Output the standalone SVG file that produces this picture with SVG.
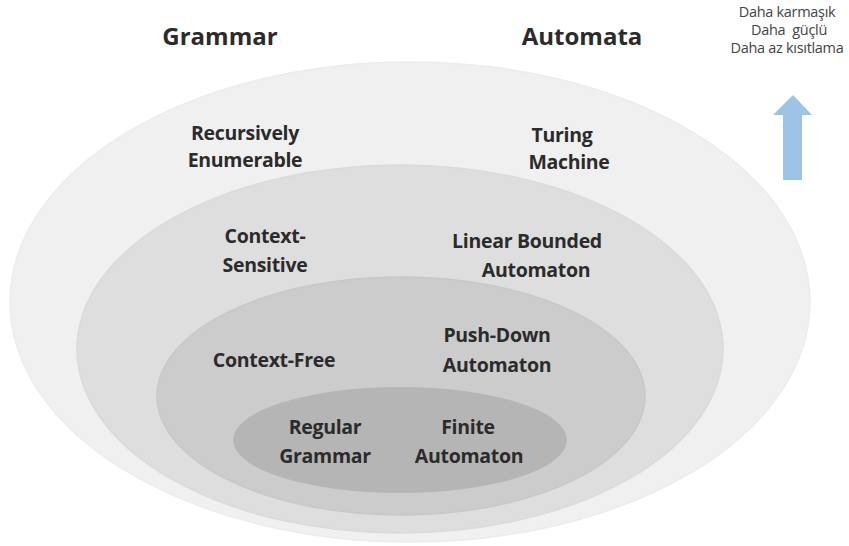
<svg xmlns="http://www.w3.org/2000/svg" width="849" height="546" viewBox="0 0 849 546">
<style>
.t{font-family:"Open Sans","Liberation Sans",sans-serif;font-weight:bold;fill:#2b2b2b;text-anchor:middle;font-size:19.5px;letter-spacing:-0.3px}
.h{font-family:"Open Sans","Liberation Sans",sans-serif;font-weight:bold;fill:#2b2b2b;text-anchor:middle;font-size:24px}
.n{font-family:"Open Sans","Liberation Sans",sans-serif;fill:#444;text-anchor:middle;font-size:14.5px;letter-spacing:-0.3px;white-space:pre}
</style>
<rect width="849" height="546" fill="#ffffff"/>
<g id="recursively-enumerable">
<ellipse cx="410" cy="302" rx="400" ry="240" fill="#f0f0f0" stroke="#ececec" stroke-width="1.5"/>
<text class="t" x="245" y="140">Recursively</text>
<text class="t" x="245" y="167">Enumerable</text>
<text class="t" x="562" y="142">Turing</text>
<text class="t" x="569" y="169">Machine</text>
</g>
<g id="context-sensitive">
<ellipse cx="400" cy="349" rx="323" ry="184" fill="#dedede" stroke="#dadada" stroke-width="1.5"/>
<text class="t" x="265" y="243">Context-</text>
<text class="t" x="265" y="272">Sensitive</text>
<text class="t" x="527" y="248">Linear Bounded</text>
<text class="t" x="536" y="277">Automaton</text>
</g>
<g id="context-free">
<ellipse cx="401" cy="396" rx="244" ry="119" fill="#cccccc" stroke="#c8c8c8" stroke-width="1.5"/>
<text class="t" x="274" y="367">Context-Free</text>
<text class="t" x="497" y="342">Push-Down</text>
<text class="t" x="497" y="372">Automaton</text>
</g>
<g id="regular">
<ellipse cx="400" cy="440" rx="167" ry="53" fill="#b5b5b5"/>
<text class="t" x="325" y="434">Regular</text>
<text class="t" x="325" y="463">Grammar</text>
<text class="t" x="468" y="434">Finite</text>
<text class="t" x="469" y="463">Automaton</text>
</g>
<g id="headers">
<text class="h" x="220" y="45">Grammar</text>
<text class="h" x="582" y="45">Automata</text>
</g>
<g id="legend">
<text class="n" x="787" y="17" xml:space="preserve">Daha karmaşık</text>
<text class="n" x="789" y="35" xml:space="preserve">Daha  güçlü</text>
<text class="n" x="787" y="53" xml:space="preserve">Daha az kısıtlama</text>
</g>
<g id="connectors">
<polygon points="793,95 812,115 802,115 802,180 783,180 783,115 773,115" fill="#9dc3e6"/>
</g>
</svg>
